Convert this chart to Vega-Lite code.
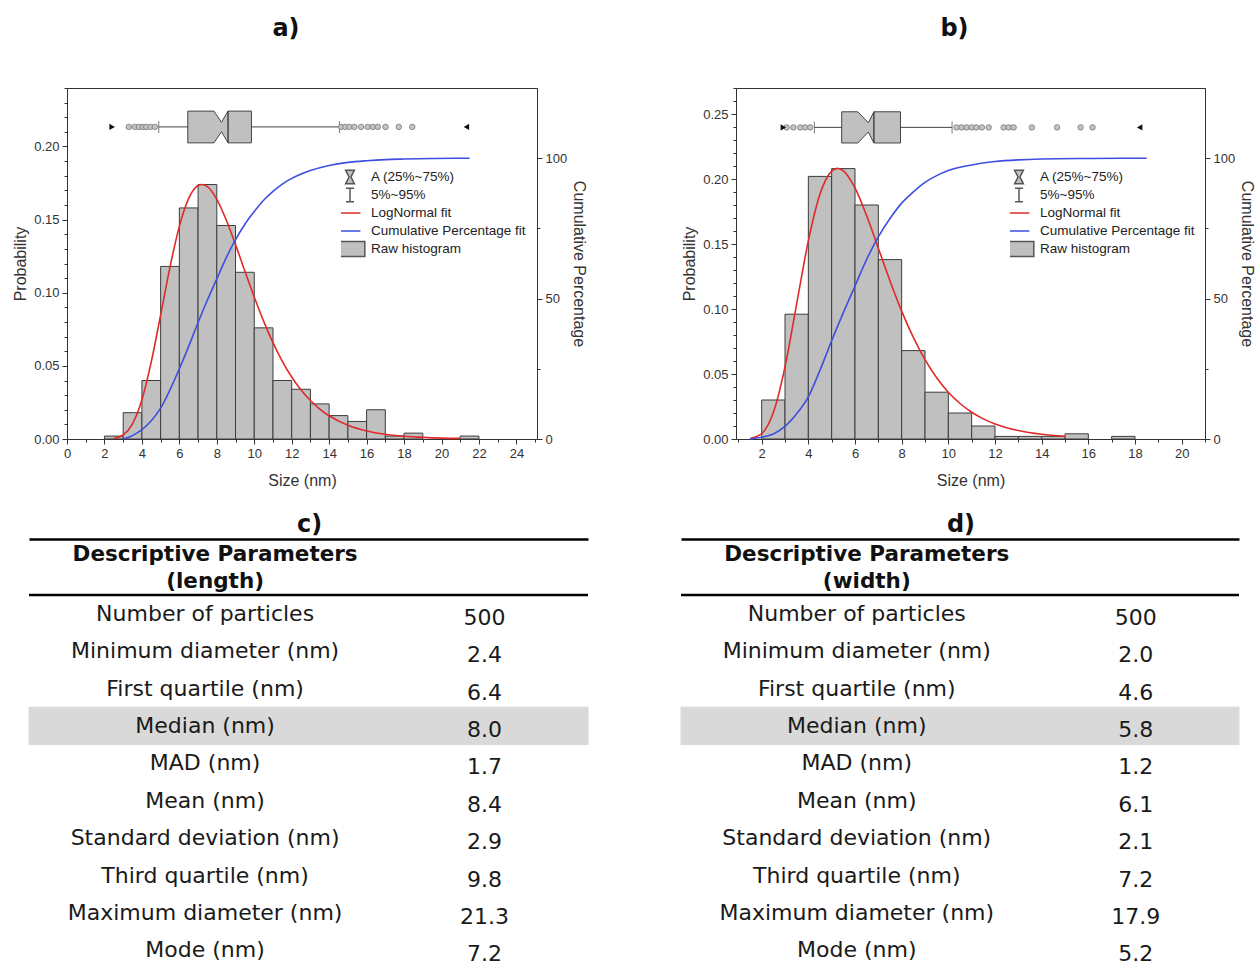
{
  "$schema": "https://vega.github.io/schema/vega-lite/v6.json",
  "padding": {"left": 12, "top": 16, "right": 0, "bottom": 0},
  "background": "white",
  "datasets": {
    "histA": [
      {"x0": 2, "x1": 3, "p": 0.002}, {"x0": 3, "x1": 4, "p": 0.018}, {"x0": 4, "x1": 5, "p": 0.040},
      {"x0": 5, "x1": 6, "p": 0.118}, {"x0": 6, "x1": 7, "p": 0.158}, {"x0": 7, "x1": 8, "p": 0.174},
      {"x0": 8, "x1": 9, "p": 0.146}, {"x0": 9, "x1": 10, "p": 0.114}, {"x0": 10, "x1": 11, "p": 0.076},
      {"x0": 11, "x1": 12, "p": 0.040}, {"x0": 12, "x1": 13, "p": 0.034}, {"x0": 13, "x1": 14, "p": 0.024},
      {"x0": 14, "x1": 15, "p": 0.016}, {"x0": 15, "x1": 16, "p": 0.012}, {"x0": 16, "x1": 17, "p": 0.020},
      {"x0": 17, "x1": 18, "p": 0.002}, {"x0": 18, "x1": 19, "p": 0.004}, {"x0": 21, "x1": 22, "p": 0.002}
    ],
    "histB": [
      {"x0": 2, "x1": 3, "p": 0.030}, {"x0": 3, "x1": 4, "p": 0.096}, {"x0": 4, "x1": 5, "p": 0.202},
      {"x0": 5, "x1": 6, "p": 0.208}, {"x0": 6, "x1": 7, "p": 0.180}, {"x0": 7, "x1": 8, "p": 0.138},
      {"x0": 8, "x1": 9, "p": 0.068}, {"x0": 9, "x1": 10, "p": 0.036}, {"x0": 10, "x1": 11, "p": 0.020},
      {"x0": 11, "x1": 12, "p": 0.010}, {"x0": 12, "x1": 13, "p": 0.002}, {"x0": 13, "x1": 14, "p": 0.002},
      {"x0": 14, "x1": 15, "p": 0.002}, {"x0": 15, "x1": 16, "p": 0.004}, {"x0": 17, "x1": 18, "p": 0.002}
    ],
    "fitA": [
      {"x": 2.5, "pdf": 0.0004}, {"x": 3, "pdf": 0.0028}, {"x": 3.5, "pdf": 0.0104}, {"x": 4, "pdf": 0.0268},
      {"x": 4.5, "pdf": 0.0527}, {"x": 5, "pdf": 0.0848}, {"x": 5.5, "pdf": 0.1175}, {"x": 6, "pdf": 0.1454},
      {"x": 6.5, "pdf": 0.1645}, {"x": 7, "pdf": 0.1733}, {"x": 7.2, "pdf": 0.1740}, {"x": 7.5, "pdf": 0.1725},
      {"x": 8, "pdf": 0.1639}, {"x": 8.5, "pdf": 0.1499}, {"x": 9, "pdf": 0.1329}, {"x": 9.5, "pdf": 0.1148},
      {"x": 10, "pdf": 0.0971}, {"x": 10.5, "pdf": 0.0806}, {"x": 11, "pdf": 0.0659}, {"x": 11.5, "pdf": 0.0531},
      {"x": 12, "pdf": 0.0424}, {"x": 12.5, "pdf": 0.0335}, {"x": 13, "pdf": 0.0263}, {"x": 13.5, "pdf": 0.0205},
      {"x": 14, "pdf": 0.0159}, {"x": 15, "pdf": 0.0094}, {"x": 16, "pdf": 0.0055}, {"x": 17, "pdf": 0.0032},
      {"x": 18, "pdf": 0.0019}, {"x": 19, "pdf": 0.0011}, {"x": 20, "pdf": 0.0006}, {"x": 21, "pdf": 0.0004}
    ],
    "fitB": [
      {"x": 1.5, "pdf": 0.0003}, {"x": 2, "pdf": 0.0041}, {"x": 2.5, "pdf": 0.0203}, {"x": 3, "pdf": 0.0555},
      {"x": 3.5, "pdf": 0.1040}, {"x": 4, "pdf": 0.1524}, {"x": 4.5, "pdf": 0.1884}, {"x": 5, "pdf": 0.2061},
      {"x": 5.25, "pdf": 0.2082}, {"x": 5.5, "pdf": 0.2063}, {"x": 6, "pdf": 0.1931}, {"x": 6.5, "pdf": 0.1717},
      {"x": 7, "pdf": 0.1468}, {"x": 7.5, "pdf": 0.1216}, {"x": 8, "pdf": 0.0984}, {"x": 8.5, "pdf": 0.0781},
      {"x": 9, "pdf": 0.0610}, {"x": 9.5, "pdf": 0.0471}, {"x": 10, "pdf": 0.0360}, {"x": 10.5, "pdf": 0.0273},
      {"x": 11, "pdf": 0.0206}, {"x": 11.5, "pdf": 0.0155}, {"x": 12, "pdf": 0.0116}, {"x": 12.5, "pdf": 0.0087},
      {"x": 13, "pdf": 0.0065}, {"x": 14, "pdf": 0.0036}, {"x": 15, "pdf": 0.0020}
    ],
    "cumA": [
      {"x": 3, "cum": 0}, {"x": 3.5, "cum": 1.2}, {"x": 4, "cum": 3.3}, {"x": 4.5, "cum": 6.5}, {"x": 5, "cum": 11},
      {"x": 5.5, "cum": 17.5}, {"x": 6, "cum": 25}, {"x": 6.5, "cum": 33}, {"x": 7, "cum": 41.5}, {"x": 7.5, "cum": 49.5},
      {"x": 8, "cum": 57}, {"x": 8.5, "cum": 64.5}, {"x": 9, "cum": 71}, {"x": 9.5, "cum": 76.5}, {"x": 10, "cum": 81},
      {"x": 10.5, "cum": 85}, {"x": 11, "cum": 88.2}, {"x": 11.5, "cum": 90.8}, {"x": 12, "cum": 92.8}, {"x": 13, "cum": 95.6},
      {"x": 14, "cum": 97.4}, {"x": 15, "cum": 98.5}, {"x": 16, "cum": 99.1}, {"x": 17, "cum": 99.5}, {"x": 18, "cum": 99.7},
      {"x": 19.5, "cum": 99.9}, {"x": 21.5, "cum": 100}
    ],
    "cumB": [
      {"x": 1.5, "cum": 0}, {"x": 2, "cum": 0.6}, {"x": 2.5, "cum": 1.8}, {"x": 3, "cum": 4.5}, {"x": 3.5, "cum": 9},
      {"x": 4, "cum": 15}, {"x": 4.5, "cum": 24.5}, {"x": 5, "cum": 35}, {"x": 5.5, "cum": 45}, {"x": 6, "cum": 54.5},
      {"x": 6.5, "cum": 64}, {"x": 7, "cum": 72}, {"x": 7.5, "cum": 78.5}, {"x": 8, "cum": 84}, {"x": 8.5, "cum": 88},
      {"x": 9, "cum": 91.4}, {"x": 9.5, "cum": 93.8}, {"x": 10, "cum": 95.6}, {"x": 11, "cum": 97.6}, {"x": 12, "cum": 98.8},
      {"x": 13, "cum": 99.4}, {"x": 14, "cum": 99.7}, {"x": 16, "cum": 99.9}, {"x": 18.5, "cum": 100}
    ],
    "boxA": [{"q1": 6.45, "q3": 9.85, "line": 8.6, "p5": 4.9, "p95": 14.55, "min": 2.41, "max": 21.33}],
    "boxB": [{"q1": 5.43, "q3": 7.95, "line": 6.81, "p5": 4.26, "p95": 10.16, "min": 2.93, "max": 18.2}],
    "shapeA": [
      {"x": 6.45, "lo": 0.2025, "hi": 0.2242}, {"x": 7.85, "lo": 0.2025, "hi": 0.2242},
      {"x": 8.25, "lo": 0.2101, "hi": 0.2166}, {"x": 8.6, "lo": 0.2025, "hi": 0.2242},
      {"x": 9.85, "lo": 0.2025, "hi": 0.2242}
    ],
    "shapeB": [
      {"x": 5.43, "lo": 0.2277, "hi": 0.2517}, {"x": 6.12, "lo": 0.2277, "hi": 0.2517},
      {"x": 6.57, "lo": 0.2361, "hi": 0.2433}, {"x": 6.81, "lo": 0.2277, "hi": 0.2517},
      {"x": 7.95, "lo": 0.2277, "hi": 0.2517}
    ],
    "outA": [
      {"x": 3.30}, {"x": 3.62}, {"x": 3.84}, {"x": 4.05}, {"x": 4.23}, {"x": 4.46}, {"x": 4.69},
      {"x": 14.64}, {"x": 14.87}, {"x": 15.08}, {"x": 15.35}, {"x": 15.71}, {"x": 16.06}, {"x": 16.33},
      {"x": 16.60}, {"x": 17.01}, {"x": 17.72}, {"x": 18.44}
    ],
    "outB": [
      {"x": 3.07}, {"x": 3.36}, {"x": 3.65}, {"x": 3.86}, {"x": 4.08},
      {"x": 10.35}, {"x": 10.57}, {"x": 10.78}, {"x": 11.0}, {"x": 11.2}, {"x": 11.44}, {"x": 11.73},
      {"x": 12.37}, {"x": 12.59}, {"x": 12.8}, {"x": 13.58}, {"x": 14.66}, {"x": 15.67}, {"x": 16.18}
    ],
    "legend": [
      {"series": "A (25%~75%)"}, {"series": "5%~95%"}, {"series": "LogNormal fit"},
      {"series": "Cumulative Percentage fit"}, {"series": "Raw histogram"}
    ],
    "tableC": [
      {"param": "Number of particles", "value": "500"},
      {"param": "Minimum diameter (nm)", "value": "2.4"},
      {"param": "First quartile (nm)", "value": "6.4"},
      {"param": "Median (nm)", "value": "8.0"},
      {"param": "MAD (nm)", "value": "1.7"},
      {"param": "Mean (nm)", "value": "8.4"},
      {"param": "Standard deviation (nm)", "value": "2.9"},
      {"param": "Third quartile (nm)", "value": "9.8"},
      {"param": "Maximum diameter (nm)", "value": "21.3"},
      {"param": "Mode (nm)", "value": "7.2"}
    ],
    "tableD": [
      {"param": "Number of particles", "value": "500"},
      {"param": "Minimum diameter (nm)", "value": "2.0"},
      {"param": "First quartile (nm)", "value": "4.6"},
      {"param": "Median (nm)", "value": "5.8"},
      {"param": "MAD (nm)", "value": "1.2"},
      {"param": "Mean (nm)", "value": "6.1"},
      {"param": "Standard deviation (nm)", "value": "2.1"},
      {"param": "Third quartile (nm)", "value": "7.2"},
      {"param": "Maximum diameter (nm)", "value": "17.9"},
      {"param": "Mode (nm)", "value": "5.2"}
    ],
    "headerC": [{"header": "Descriptive Parameters\n(length)"}],
    "headerD": [{"header": "Descriptive Parameters\n(width)"}]
  },
  "concat": [
    {
      "hconcat": [
        {
          "title": {"text": "a)", "frame": "group", "dx": -16, "offset": 41},
          "width": 470,
          "height": 351,
          "layer": [
            {
              "layer": [
                {
                  "data": {"name": "histA"},
                  "mark": {"type": "rect", "fill": "#c0c0c0", "stroke": "#3c3c3c", "strokeWidth": 1},
                  "encoding": {
                    "x": {
                      "field": "x0", "type": "quantitative",
                      "scale": {"domain": [0, 25.1], "nice": false, "zero": false},
                      "axis": {
                        "title": "Size (nm)", "tickCount": 100,
                        "values": [0,1,2,3,4,5,6,7,8,9,10,11,12,13,14,15,16,17,18,19,20,21,22,23,24,25],
                        "labelExpr": "datum.value % 2 === 0 ? format(datum.value, 'd') : ''",
                        "tickSize": {"condition": {"test": "datum.value % 2 === 0", "value": 5}, "value": 3},
                        "labelOverlap": false, "labelFlush": false,
                        "labelPadding": 3, "titlePadding": 12
                      }
                    },
                    "x2": {"field": "x1"},
                    "y": {
                      "field": "p", "type": "quantitative",
                      "scale": {"domain": [0, 0.24], "nice": false},
                      "axis": {
                        "title": "Probability", "tickCount": 100,
                        "values": [0,0.01,0.02,0.03,0.04,0.05,0.06,0.07,0.08,0.09,0.1,0.11,0.12,0.13,0.14,0.15,0.16,0.17,0.18,0.19,0.2,0.21,0.22,0.23,0.24],
                        "labelExpr": "abs(datum.value*20 - round(datum.value*20)) < 0.001 ? format(datum.value, '.2f') : ''",
                        "tickSize": {"condition": {"test": "abs(datum.value*20 - round(datum.value*20)) < 0.001", "value": 5}, "value": 3},
                        "labelOverlap": false, "labelFlush": false,
                        "labelPadding": 3, "titlePadding": 5
                      }
                    },
                    "y2": {"datum": 0}
                  }
                },
                {
                  "data": {"name": "fitA"},
                  "mark": {"type": "line", "color": "#e02a2a", "strokeWidth": 1.6, "interpolate": "monotone"},
                  "encoding": {
                    "x": {"field": "x", "type": "quantitative"},
                    "y": {"field": "pdf", "type": "quantitative"}
                  }
                },
                {
                  "data": {"name": "boxA"},
                  "mark": {"type": "rule", "color": "#444", "strokeWidth": 1},
                  "encoding": {
                    "x": {"field": "p5", "type": "quantitative"},
                    "x2": {"field": "p95"},
                    "y": {"datum": 0.2134, "type": "quantitative"}
                  }
                },
                {
                  "data": {"name": "boxA"},
                  "transform": [{"fold": ["p5", "p95"]}],
                  "mark": {"type": "tick", "orient": "vertical", "size": 12, "thickness": 1, "color": "#444"},
                  "encoding": {
                    "x": {"field": "value", "type": "quantitative"},
                    "y": {"datum": 0.2134, "type": "quantitative"}
                  }
                },
                {
                  "data": {"name": "shapeA"},
                  "mark": {"type": "area", "fill": "#c0c0c0", "stroke": "#444", "strokeWidth": 1, "orient": "vertical"},
                  "encoding": {
                    "x": {"field": "x", "type": "quantitative"},
                    "y": {"field": "lo", "type": "quantitative"},
                    "y2": {"field": "hi"}
                  }
                },
                {
                  "data": {"name": "boxA"},
                  "mark": {"type": "rule", "color": "#333", "strokeWidth": 1.3},
                  "encoding": {
                    "x": {"field": "line", "type": "quantitative"},
                    "y": {"datum": 0.2025, "type": "quantitative"},
                    "y2": {"datum": 0.2242}
                  }
                },
                {
                  "data": {"name": "outA"},
                  "mark": {"type": "point", "shape": "circle", "size": 30, "filled": true, "fill": "#c4c4c4", "stroke": "#777", "strokeWidth": 0.8, "opacity": 1},
                  "encoding": {
                    "x": {"field": "x", "type": "quantitative"},
                    "y": {"datum": 0.2134, "type": "quantitative"}
                  }
                },
                {
                  "data": {"name": "boxA"},
                  "mark": {"type": "point", "shape": "triangle-right", "size": 40, "filled": true, "color": "#111", "opacity": 1},
                  "encoding": {
                    "x": {"field": "min", "type": "quantitative"},
                    "y": {"datum": 0.2134, "type": "quantitative"}
                  }
                },
                {
                  "data": {"name": "boxA"},
                  "mark": {"type": "point", "shape": "triangle-left", "size": 40, "filled": true, "color": "#111", "opacity": 1},
                  "encoding": {
                    "x": {"field": "max", "type": "quantitative"},
                    "y": {"datum": 0.2134, "type": "quantitative"}
                  }
                },
                {
                  "data": {"name": "legend"},
                  "mark": {"type": "point", "opacity": 0, "filled": true},
                  "encoding": {
                    "shape": {
                      "field": "series", "type": "nominal",
                      "scale": {
                        "domain": ["A (25%~75%)", "5%~95%", "LogNormal fit", "Cumulative Percentage fit", "Raw histogram"],
                        "range": ["M-0.55,-0.85H0.55L0.12,0L0.55,0.85H-0.55L-0.12,0Z", "M-0.5,-0.85H0.5M0,-0.85V0.85M-0.5,0.85H0.5", "M-1.3,0H1.3", "M-1.3,0H1.3", "M-1.85,-0.95H1.85V0.95H-1.85Z"]
                      },
                      "legend": {
                        "orient": "none", "legendX": 274, "legendY": 80, "title": null,
                        "labelFont": "Liberation Sans", "labelFontSize": 13.5, "labelColor": "#222",
                        "symbolSize": 256, "symbolStrokeWidth": 1.5, "labelOffset": 12, "rowPadding": 0,
                        "clipHeight": 18, "padding": 0, "symbolOpacity": 1
                      }
                    },
                    "fill": {
                      "field": "series", "type": "nominal",
                      "scale": {
                        "domain": ["A (25%~75%)", "5%~95%", "LogNormal fit", "Cumulative Percentage fit", "Raw histogram"],
                        "range": ["#c0c0c0", "transparent", "transparent", "transparent", "#c0c0c0"]
                      }
                    },
                    "stroke": {
                      "field": "series", "type": "nominal",
                      "scale": {
                        "domain": ["A (25%~75%)", "5%~95%", "LogNormal fit", "Cumulative Percentage fit", "Raw histogram"],
                        "range": ["#555555", "#555555", "#e02a2a", "#3d4fe0", "#555555"]
                      }
                    }
                  }
                }
              ]
            },
            {
              "data": {"name": "cumA"},
              "mark": {"type": "line", "color": "#3d4fe0", "strokeWidth": 1.6, "interpolate": "monotone"},
              "encoding": {
                "x": {"field": "x", "type": "quantitative"},
                "y": {
                  "field": "cum", "type": "quantitative",
                  "scale": {"domain": [0, 125], "nice": false},
                  "axis": {
                    "orient": "right", "title": "Cumulative Percentage", "tickCount": 100,
                    "values": [0, 25, 50, 75, 100],
                    "labelExpr": "datum.value % 50 === 0 ? datum.label : ''",
                    "tickSize": {"condition": {"test": "datum.value % 50 === 0", "value": 5}, "value": 3},
                    "labelOverlap": false, "labelFlush": false,
                    "labelPadding": 3, "titlePadding": 4
                  }
                }
              }
            }
          ],
          "resolve": {"scale": {"y": "independent"}}
        },
        {
          "title": {"text": "b)", "frame": "group", "dx": -16, "offset": 41},
          "width": 469,
          "height": 351,
          "layer": [
            {
              "layer": [
                {
                  "data": {"name": "histB"},
                  "mark": {"type": "rect", "fill": "#c0c0c0", "stroke": "#3c3c3c", "strokeWidth": 1},
                  "encoding": {
                    "x": {
                      "field": "x0", "type": "quantitative",
                      "scale": {"domain": [0.9, 21], "nice": false, "zero": false},
                      "axis": {
                        "title": "Size (nm)", "tickCount": 100,
                        "values": [1,2,3,4,5,6,7,8,9,10,11,12,13,14,15,16,17,18,19,20,21],
                        "labelExpr": "datum.value % 2 === 0 ? format(datum.value, 'd') : ''",
                        "tickSize": {"condition": {"test": "datum.value % 2 === 0", "value": 5}, "value": 3},
                        "labelOverlap": false, "labelFlush": false,
                        "labelPadding": 3, "titlePadding": 12
                      }
                    },
                    "x2": {"field": "x1"},
                    "y": {
                      "field": "p", "type": "quantitative",
                      "scale": {"domain": [0, 0.27], "nice": false},
                      "axis": {
                        "title": "Probability", "tickCount": 100,
                        "values": [0,0.01,0.02,0.03,0.04,0.05,0.06,0.07,0.08,0.09,0.1,0.11,0.12,0.13,0.14,0.15,0.16,0.17,0.18,0.19,0.2,0.21,0.22,0.23,0.24,0.25,0.26,0.27],
                        "labelExpr": "abs(datum.value*20 - round(datum.value*20)) < 0.001 ? format(datum.value, '.2f') : ''",
                        "tickSize": {"condition": {"test": "abs(datum.value*20 - round(datum.value*20)) < 0.001", "value": 5}, "value": 3},
                        "labelOverlap": false, "labelFlush": false,
                        "labelPadding": 3, "titlePadding": 5
                      }
                    },
                    "y2": {"datum": 0}
                  }
                },
                {
                  "data": {"name": "fitB"},
                  "mark": {"type": "line", "color": "#e02a2a", "strokeWidth": 1.6, "interpolate": "monotone"},
                  "encoding": {
                    "x": {"field": "x", "type": "quantitative"},
                    "y": {"field": "pdf", "type": "quantitative"}
                  }
                },
                {
                  "data": {"name": "boxB"},
                  "mark": {"type": "rule", "color": "#444", "strokeWidth": 1},
                  "encoding": {
                    "x": {"field": "p5", "type": "quantitative"},
                    "x2": {"field": "p95"},
                    "y": {"datum": 0.2397, "type": "quantitative"}
                  }
                },
                {
                  "data": {"name": "boxB"},
                  "transform": [{"fold": ["p5", "p95"]}],
                  "mark": {"type": "tick", "orient": "vertical", "size": 12, "thickness": 1, "color": "#444"},
                  "encoding": {
                    "x": {"field": "value", "type": "quantitative"},
                    "y": {"datum": 0.2397, "type": "quantitative"}
                  }
                },
                {
                  "data": {"name": "shapeB"},
                  "mark": {"type": "area", "fill": "#c0c0c0", "stroke": "#444", "strokeWidth": 1, "orient": "vertical"},
                  "encoding": {
                    "x": {"field": "x", "type": "quantitative"},
                    "y": {"field": "lo", "type": "quantitative"},
                    "y2": {"field": "hi"}
                  }
                },
                {
                  "data": {"name": "boxB"},
                  "mark": {"type": "rule", "color": "#333", "strokeWidth": 1.3},
                  "encoding": {
                    "x": {"field": "line", "type": "quantitative"},
                    "y": {"datum": 0.2277, "type": "quantitative"},
                    "y2": {"datum": 0.2517}
                  }
                },
                {
                  "data": {"name": "outB"},
                  "mark": {"type": "point", "shape": "circle", "size": 30, "filled": true, "fill": "#c4c4c4", "stroke": "#777", "strokeWidth": 0.8, "opacity": 1},
                  "encoding": {
                    "x": {"field": "x", "type": "quantitative"},
                    "y": {"datum": 0.2397, "type": "quantitative"}
                  }
                },
                {
                  "data": {"name": "boxB"},
                  "mark": {"type": "point", "shape": "triangle-right", "size": 40, "filled": true, "color": "#111", "opacity": 1},
                  "encoding": {
                    "x": {"field": "min", "type": "quantitative"},
                    "y": {"datum": 0.2397, "type": "quantitative"}
                  }
                },
                {
                  "data": {"name": "boxB"},
                  "mark": {"type": "point", "shape": "triangle-left", "size": 40, "filled": true, "color": "#111", "opacity": 1},
                  "encoding": {
                    "x": {"field": "max", "type": "quantitative"},
                    "y": {"datum": 0.2397, "type": "quantitative"}
                  }
                },
                {
                  "data": {"name": "legend"},
                  "mark": {"type": "point", "opacity": 0, "filled": true},
                  "encoding": {
                    "shape": {
                      "field": "series", "type": "nominal",
                      "scale": {
                        "domain": ["A (25%~75%)", "5%~95%", "LogNormal fit", "Cumulative Percentage fit", "Raw histogram"],
                        "range": ["M-0.55,-0.85H0.55L0.12,0L0.55,0.85H-0.55L-0.12,0Z", "M-0.5,-0.85H0.5M0,-0.85V0.85M-0.5,0.85H0.5", "M-1.3,0H1.3", "M-1.3,0H1.3", "M-1.85,-0.95H1.85V0.95H-1.85Z"]
                      },
                      "legend": {
                        "orient": "none", "legendX": 274, "legendY": 80, "title": null,
                        "labelFont": "Liberation Sans", "labelFontSize": 13.5, "labelColor": "#222",
                        "symbolSize": 256, "symbolStrokeWidth": 1.5, "labelOffset": 12, "rowPadding": 0,
                        "clipHeight": 18, "padding": 0, "symbolOpacity": 1
                      }
                    },
                    "fill": {
                      "field": "series", "type": "nominal",
                      "scale": {
                        "domain": ["A (25%~75%)", "5%~95%", "LogNormal fit", "Cumulative Percentage fit", "Raw histogram"],
                        "range": ["#c0c0c0", "transparent", "transparent", "transparent", "#c0c0c0"]
                      }
                    },
                    "stroke": {
                      "field": "series", "type": "nominal",
                      "scale": {
                        "domain": ["A (25%~75%)", "5%~95%", "LogNormal fit", "Cumulative Percentage fit", "Raw histogram"],
                        "range": ["#555555", "#555555", "#e02a2a", "#3d4fe0", "#555555"]
                      }
                    }
                  }
                }
              ]
            },
            {
              "data": {"name": "cumB"},
              "mark": {"type": "line", "color": "#3d4fe0", "strokeWidth": 1.6, "interpolate": "monotone"},
              "encoding": {
                "x": {"field": "x", "type": "quantitative"},
                "y": {
                  "field": "cum", "type": "quantitative",
                  "scale": {"domain": [0, 125], "nice": false},
                  "axis": {
                    "orient": "right", "title": "Cumulative Percentage", "tickCount": 100,
                    "values": [0, 25, 50, 75, 100],
                    "labelExpr": "datum.value % 50 === 0 ? datum.label : ''",
                    "tickSize": {"condition": {"test": "datum.value % 50 === 0", "value": 5}, "value": 3},
                    "labelOverlap": false, "labelFlush": false,
                    "labelPadding": 3, "titlePadding": 4
                  }
                }
              }
            }
          ],
          "resolve": {"scale": {"y": "independent"}}
        }
      ],
      "spacing": 93,
      "resolve": {"scale": {"shape": "independent", "fill": "independent", "stroke": "independent"}}
    },
    {
      "hconcat": [
        {
          "title": {"text": "c)", "offset": 2, "dx": -18},
          "width": 521,
          "height": 430,
          "view": {"stroke": null},
          "data": {"name": "tableC"},
          "encoding": {
            "y": {
              "field": "param", "type": "nominal", "sort": null,
              "scale": {
                "domain": ["Number of particles", "Minimum diameter (nm)", "First quartile (nm)", "Median (nm)", "MAD (nm)", "Mean (nm)", "Standard deviation (nm)", "Third quartile (nm)", "Maximum diameter (nm)", "Mode (nm)"],
                "paddingInner": 0, "paddingOuter": 0.749, "align": 1
              },
              "axis": null
            }
          },
          "layer": [
            {
              "transform": [{"filter": "datum.param === 'Median (nm)'"}, {"fold": ["param", "value"], "as": ["col", "cell"]}],
              "mark": {"type": "rect", "color": "#d9d9d9", "stroke": "#d9d9d9", "strokeWidth": 1},
              "encoding": {
                "x": {
                  "field": "col", "type": "nominal",
                  "scale": {"type": "band", "domain": ["param", "value"], "range": [-38, 521], "paddingInner": 0, "paddingOuter": 0},
                  "axis": {"orient": "top", "domain": true, "domainWidth": 2.5, "domainColor": "#000", "ticks": false, "labels": false, "title": null}
                }
              }
            },
            {
              "mark": {"type": "text", "font": "DejaVu Sans", "fontSize": 22, "color": "#1a1a1a"},
              "encoding": {
                "x": {"datum": "param", "type": "nominal", "bandPosition": 0.63},
                "text": {"field": "param"}
              }
            },
            {
              "mark": {"type": "text", "font": "DejaVu Sans", "fontSize": 22, "color": "#1a1a1a", "dy": 4},
              "encoding": {
                "x": {"datum": "value", "type": "nominal", "bandPosition": 0.63},
                "text": {"field": "value"}
              }
            },
            {
              "data": {"name": "headerC"},
              "mark": {"type": "rule", "color": "#000", "strokeWidth": 2.5},
              "encoding": {
                "x": {"datum": "param", "type": "nominal", "bandPosition": 0},
                "x2": {"datum": "value", "bandPosition": 1},
                "y": {"datum": "Number of particles", "type": "nominal", "bandPosition": 0}
              }
            },
            {
              "data": {"name": "headerC"},
              "mark": {"type": "text", "font": "DejaVu Sans", "fontSize": 21.5, "fontWeight": "bold", "color": "#111", "baseline": "middle", "dy": -40, "dx": 10, "lineHeight": 27, "lineBreak": "\n"},
              "encoding": {
                "x": {"datum": "param", "type": "nominal", "bandPosition": 0.63},
                "y": {"datum": "Number of particles", "type": "nominal", "bandPosition": 0},
                "text": {"field": "header"}
              }
            }
          ]
        },
        {
          "title": {"text": "d)", "offset": 2, "dx": -18},
          "width": 520,
          "height": 430,
          "view": {"stroke": null},
          "data": {"name": "tableD"},
          "encoding": {
            "y": {
              "field": "param", "type": "nominal", "sort": null,
              "scale": {
                "domain": ["Number of particles", "Minimum diameter (nm)", "First quartile (nm)", "Median (nm)", "MAD (nm)", "Mean (nm)", "Standard deviation (nm)", "Third quartile (nm)", "Maximum diameter (nm)", "Mode (nm)"],
                "paddingInner": 0, "paddingOuter": 0.749, "align": 1
              },
              "axis": null
            }
          },
          "layer": [
            {
              "transform": [{"filter": "datum.param === 'Median (nm)'"}, {"fold": ["param", "value"], "as": ["col", "cell"]}],
              "mark": {"type": "rect", "color": "#d9d9d9", "stroke": "#d9d9d9", "strokeWidth": 1},
              "encoding": {
                "x": {
                  "field": "col", "type": "nominal",
                  "scale": {"type": "band", "domain": ["param", "value"], "range": [-38, 520], "paddingInner": 0, "paddingOuter": 0},
                  "axis": {"orient": "top", "domain": true, "domainWidth": 2.5, "domainColor": "#000", "ticks": false, "labels": false, "title": null}
                }
              }
            },
            {
              "mark": {"type": "text", "font": "DejaVu Sans", "fontSize": 22, "color": "#1a1a1a"},
              "encoding": {
                "x": {"datum": "param", "type": "nominal", "bandPosition": 0.63},
                "text": {"field": "param"}
              }
            },
            {
              "mark": {"type": "text", "font": "DejaVu Sans", "fontSize": 22, "color": "#1a1a1a", "dy": 4},
              "encoding": {
                "x": {"datum": "value", "type": "nominal", "bandPosition": 0.63},
                "text": {"field": "value"}
              }
            },
            {
              "data": {"name": "headerD"},
              "mark": {"type": "rule", "color": "#000", "strokeWidth": 2.5},
              "encoding": {
                "x": {"datum": "param", "type": "nominal", "bandPosition": 0},
                "x2": {"datum": "value", "bandPosition": 1},
                "y": {"datum": "Number of particles", "type": "nominal", "bandPosition": 0}
              }
            },
            {
              "data": {"name": "headerD"},
              "mark": {"type": "text", "font": "DejaVu Sans", "fontSize": 21.5, "fontWeight": "bold", "color": "#111", "baseline": "middle", "dy": -40, "dx": 10, "lineHeight": 27, "lineBreak": "\n"},
              "encoding": {
                "x": {"datum": "param", "type": "nominal", "bandPosition": 0.63},
                "y": {"datum": "Number of particles", "type": "nominal", "bandPosition": 0},
                "text": {"field": "header"}
              }
            }
          ]
        }
      ],
      "spacing": 53
    }
  ],
  "columns": 1,
  "spacing": 24,
  "resolve": {"scale": {"shape": "independent", "fill": "independent", "stroke": "independent"}},
  "config": {
    "font": "Liberation Sans",
    "view": {"stroke": "#333", "strokeWidth": 1},
    "axis": {
      "labelFont": "Liberation Sans", "titleFont": "Liberation Sans",
      "labelFontSize": 13, "titleFontSize": 16, "titleFontWeight": "normal",
      "labelColor": "#333", "titleColor": "#333", "domainColor": "#333", "tickColor": "#333",
      "grid": false, "labelOverlap": false, "labelFlush": false
    },
    "title": {"font": "DejaVu Sans", "fontSize": 24, "fontWeight": "bold", "color": "#111"}
  }
}
